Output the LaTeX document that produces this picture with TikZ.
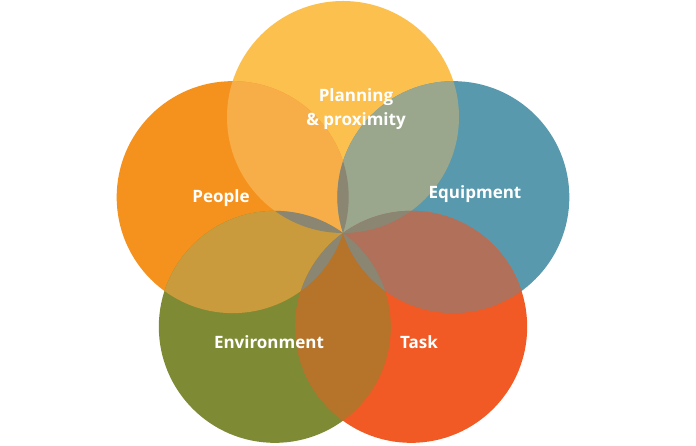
\documentclass[tikz,border=0pt]{standalone}
\usepackage{fontspec}
\setmainfont{Open Sans}
\usetikzlibrary{calc}

\definecolor{planC}{HTML}{FCC04F}
\definecolor{peopleC}{HTML}{F5921E}
\definecolor{equipC}{HTML}{5899AD}
\definecolor{envC}{HTML}{7F8A34}
\definecolor{taskC}{HTML}{F15A24}
\definecolor{planPeopleC}{HTML}{F8AE48}
\definecolor{planEquipC}{HTML}{9AA78C}
\definecolor{peopleEnvC}{HTML}{C99B3C}
\definecolor{equipTaskC}{HTML}{B0705A}
\definecolor{envTaskC}{HTML}{B5742A}
\definecolor{midC}{HTML}{8A8672}

\tikzset{
    tagtext/.style={text=white, font=\fontsize{17}{24}\selectfont\bfseries, align=center, inner sep=0pt}
}

\begin{document}
\begin{tikzpicture}[x=1pt, y=1pt]
    \useasboundingbox (0,0) rectangle (696,446);

    % Centres of the circles
    \coordinate (O) at (343,213);
    \coordinate (plan) at ($(O)+(90:116pt)$);
    \coordinate (people) at ($(O)+(162:116pt)$);
    \coordinate (equip) at ($(O)+(18:116pt)$);
    \coordinate (env) at ($(O)+(234:116pt)$);
    \coordinate (task) at ($(O)+(306:116pt)$);

    % Circles
    \fill[planC] (plan) circle (116pt);
    \fill[peopleC] (people) circle (116pt);
    \fill[equipC] (equip) circle (116pt);
    \fill[envC] (env) circle (116pt);
    \fill[taskC] (task) circle (116pt);

    % Overlaps of neighbours
    \begin{scope}
        \clip (plan) circle (116pt);
        \fill[planPeopleC] (people) circle (116pt);
        \fill[planEquipC] (equip) circle (116pt);
    \end{scope}
    \begin{scope}
        \clip (env) circle (116pt);
        \fill[peopleEnvC] (people) circle (116pt);
        \fill[envTaskC] (task) circle (116pt);
    \end{scope}
    \begin{scope}
        \clip (equip) circle (116pt);
        \fill[equipTaskC] (task) circle (116pt);
    \end{scope}

    % Middle slivers
    \begin{scope}
        \clip (plan) circle (116pt);
        \fill[midC] (env) circle (116pt);
        \fill[midC] (task) circle (116pt);
    \end{scope}
    \begin{scope}
        \clip (people) circle (116pt);
        \fill[midC] (equip) circle (116pt);
        \fill[midC] (task) circle (116pt);
    \end{scope}
    \begin{scope}
        \clip (equip) circle (116pt);
        \fill[midC] (env) circle (116pt);
    \end{scope}

    % Labels
    \node (planL) [tagtext] at (356,337) {Planning\\\& proximity};
    \node (peopleL) [tagtext] at (221,248) {People};
    \node (equipL) [tagtext] at (475,252) {Equipment};
    \node (envL) [tagtext] at (269,104) {Environment};
    \node (taskL) [tagtext] at (419,104) {Task};

\end{tikzpicture}
\end{document}
